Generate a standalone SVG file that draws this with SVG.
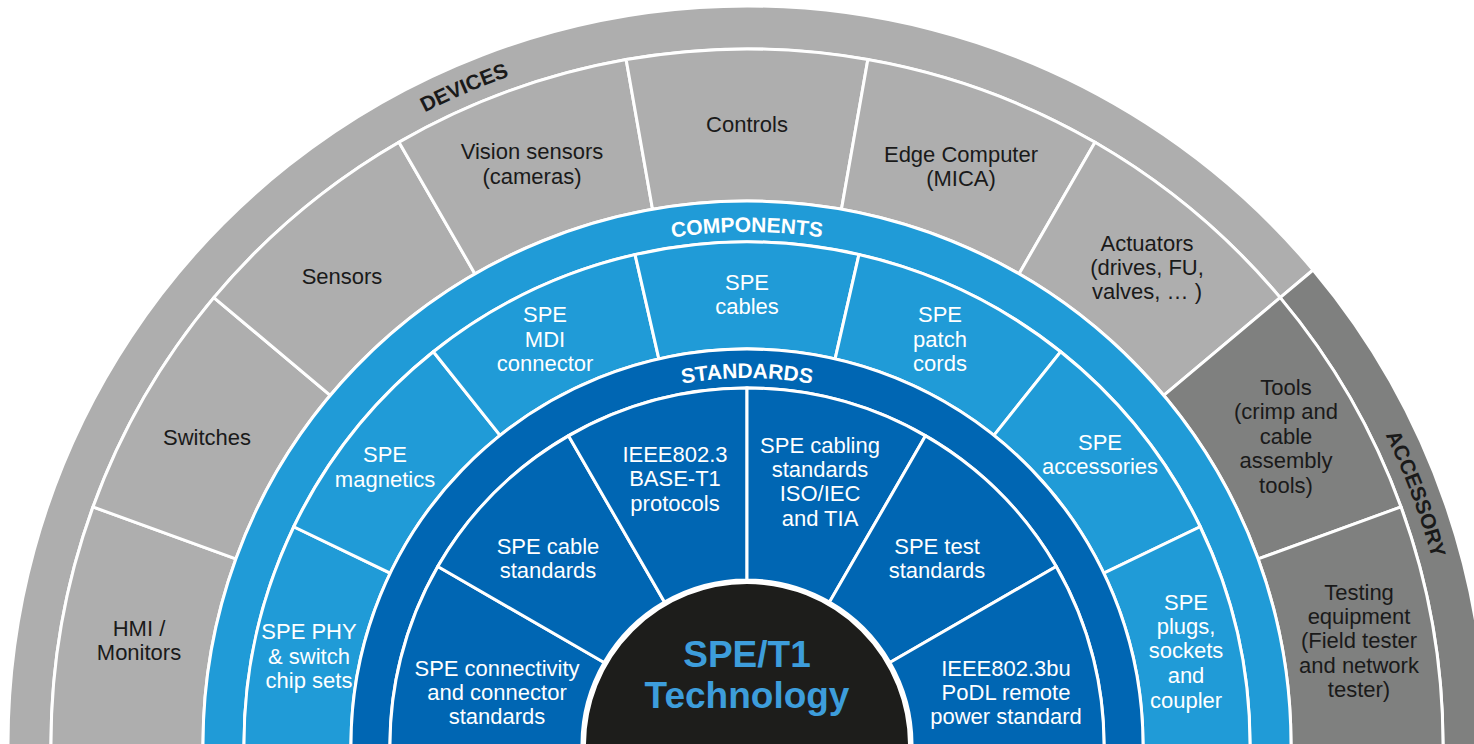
<svg xmlns="http://www.w3.org/2000/svg" width="1474" height="744" viewBox="0 0 1474 744">
<defs>
<style>
.dev{fill:#aeaeae;stroke:#fff;stroke-width:3}
.acc{fill:#7f807f;stroke:#fff;stroke-width:3}
.comp{fill:#209bd7;stroke:#fff;stroke-width:3}
.std{fill:#0066b3;stroke:#fff;stroke-width:3}
.t{font-family:"Liberation Sans",Arial,sans-serif;font-size:22px;text-anchor:middle}
.dk{fill:#1a1a1a}
.wt{fill:#fff}
.band{font-family:"Liberation Sans",Arial,sans-serif;font-size:21px;font-weight:bold;text-anchor:middle}
</style>
<path id="arcOuter" d="M 37 745 A 710 710 0 0 1 1457 745"/>
<path id="arcComp" d="M 234 745 A 513 513 0 0 1 1260 745"/>
<path id="arcStd" d="M 380 745 A 367 367 0 0 1 1114 745"/>
</defs>
<rect width="1474" height="744" fill="#fff"/>

<g id="band-devices">
<path class="dev" d="M 8.45 770.79 A 739 739 0 0 1 1313.10 269.98 L 1280.16 297.62 A 696 696 0 0 0 51.42 769.29 Z"/>
<text class="band dk"><textPath href="#arcOuter" startOffset="826.5">DEVICES</textPath></text>
</g>
<g id="band-accessory">
<path class="acc" d="M 1313.10 269.98 A 739 739 0 0 1 1485.55 770.79 L 1442.58 769.29 A 696 696 0 0 0 1280.16 297.62 Z"/>
<text class="band dk"><textPath href="#arcOuter" startOffset="1975">ACCESSORY</textPath></text>
</g>

<g id="dev-hmi">
<path class="dev" d="M 51.42 769.29 A 696 696 0 0 1 92.98 506.95 L 235.81 558.94 A 544 544 0 0 0 203.33 763.99 Z"/>
<text class="t dk" x="139" y="636">HMI /<tspan x="139" y="660">Monitors</tspan></text>
</g>
<g id="dev-switches">
<path class="dev" d="M 92.98 506.95 A 696 696 0 0 1 213.84 297.62 L 330.27 395.32 A 544 544 0 0 0 235.81 558.94 Z"/>
<text class="t dk" x="207" y="445">Switches</text>
</g>
<g id="dev-sensors">
<path class="dev" d="M 213.84 297.62 A 696 696 0 0 1 399 142.24 L 475 273.88 A 544 544 0 0 0 330.27 395.32 Z"/>
<text class="t dk" x="342" y="284">Sensors</text>
</g>
<g id="dev-vision">
<path class="dev" d="M 399 142.24 A 696 696 0 0 1 626.14 59.57 L 652.53 209.26 A 544 544 0 0 0 475 273.88 Z"/>
<text class="t dk" x="532" y="159">Vision sensors<tspan x="532" y="184">(cameras)</tspan></text>
</g>
<g id="dev-controls">
<path class="dev" d="M 626.14 59.57 A 696 696 0 0 1 867.86 59.57 L 841.47 209.26 A 544 544 0 0 0 652.53 209.26 Z"/>
<text class="t dk" x="747" y="132">Controls</text>
</g>
<g id="dev-edge">
<path class="dev" d="M 867.86 59.57 A 696 696 0 0 1 1095 142.24 L 1019 273.88 A 544 544 0 0 0 841.47 209.26 Z"/>
<text class="t dk" x="961" y="162">Edge Computer<tspan x="961" y="186">(MICA)</tspan></text>
</g>
<g id="dev-actuators">
<path class="dev" d="M 1095 142.24 A 696 696 0 0 1 1280.16 297.62 L 1163.73 395.32 A 544 544 0 0 0 1019 273.88 Z"/>
<text class="t dk" x="1147" y="251">Actuators<tspan x="1147" y="275">(drives, FU,</tspan><tspan x="1147" y="299">valves, … )</tspan></text>
</g>
<g id="acc-tools">
<path class="acc" d="M 1280.16 297.62 A 696 696 0 0 1 1401.02 506.95 L 1258.19 558.94 A 544 544 0 0 0 1163.73 395.32 Z"/>
<text class="t dk" x="1286" y="395">Tools<tspan x="1286" y="419">(crimp and</tspan><tspan x="1286" y="444">cable</tspan><tspan x="1286" y="468">assembly</tspan><tspan x="1286" y="493">tools)</tspan></text>
</g>
<g id="acc-testing">
<path class="acc" d="M 1401.02 506.95 A 696 696 0 0 1 1442.58 769.29 L 1290.67 763.99 A 544 544 0 0 0 1258.19 558.94 Z"/>
<text class="t dk" x="1359" y="600">Testing<tspan x="1359" y="624">equipment</tspan><tspan x="1359" y="648">(Field tester</tspan><tspan x="1359" y="673">and network</tspan><tspan x="1359" y="697">tester)</tspan></text>
</g>

<g id="band-components">
<path class="comp" d="M 203.33 763.99 A 544 544 0 1 1 1290.67 763.99 L 1249.69 762.55 A 503 503 0 1 0 244.31 762.55 Z"/>
<text class="band wt"><textPath href="#arcComp" startOffset="50%">COMPONENTS</textPath></text>
</g>
<g id="comp-phy">
<path class="comp" d="M 244.31 762.55 A 503 503 0 0 1 293.81 526.76 L 390.22 573.18 A 396 396 0 0 0 351.24 758.82 Z"/>
<text class="t wt" x="309" y="639">SPE PHY<tspan x="309" y="664">&amp; switch</tspan><tspan x="309" y="688">chip sets</tspan></text>
</g>
<g id="comp-magnetics">
<path class="comp" d="M 293.81 526.76 A 503 503 0 0 1 433.38 351.74 L 500.10 435.40 A 396 396 0 0 0 390.22 573.18 Z"/>
<text class="t wt" x="385" y="462">SPE<tspan x="385" y="487">magnetics</tspan></text>
</g>
<g id="comp-mdi">
<path class="comp" d="M 433.38 351.74 A 503 503 0 0 1 635.07 254.61 L 658.88 358.93 A 396 396 0 0 0 500.10 435.40 Z"/>
<text class="t wt" x="545" y="322">SPE<tspan x="545" y="347">MDI</tspan><tspan x="545" y="371">connector</tspan></text>
</g>
<g id="comp-cables">
<path class="comp" d="M 635.07 254.61 A 503 503 0 0 1 858.93 254.61 L 835.12 358.93 A 396 396 0 0 0 658.88 358.93 Z"/>
<text class="t wt" x="747" y="290">SPE<tspan x="747" y="314">cables</tspan></text>
</g>
<g id="comp-patch">
<path class="comp" d="M 858.93 254.61 A 503 503 0 0 1 1060.62 351.74 L 993.90 435.40 A 396 396 0 0 0 835.12 358.93 Z"/>
<text class="t wt" x="940" y="322">SPE<tspan x="940" y="347">patch</tspan><tspan x="940" y="371">cords</tspan></text>
</g>
<g id="comp-accessories">
<path class="comp" d="M 1060.62 351.74 A 503 503 0 0 1 1200.19 526.76 L 1103.78 573.18 A 396 396 0 0 0 993.90 435.40 Z"/>
<text class="t wt" x="1100" y="450">SPE<tspan x="1100" y="474">accessories</tspan></text>
</g>
<g id="comp-plugs">
<path class="comp" d="M 1200.19 526.76 A 503 503 0 0 1 1249.69 762.55 L 1142.76 758.82 A 396 396 0 0 0 1103.78 573.18 Z"/>
<text class="t wt" x="1186" y="610">SPE<tspan x="1186" y="634">plugs,</tspan><tspan x="1186" y="658">sockets</tspan><tspan x="1186" y="683">and</tspan><tspan x="1186" y="708">coupler</tspan></text>
</g>

<g id="band-standards">
<path class="std" d="M 351.24 758.82 A 396 396 0 1 1 1142.76 758.82 L 1103.78 757.46 A 357 357 0 1 0 390.22 757.46 Z"/>
<text class="band wt"><textPath href="#arcStd" startOffset="50%">STANDARDS</textPath></text>
</g>
<g id="std-connectivity">
<path class="std" d="M 390.22 757.46 A 357 357 0 0 1 437.83 566.5 L 604.11 662.5 A 165 165 0 0 0 582.10 750.76 Z"/>
<text class="t wt" x="497" y="676">SPE connectivity<tspan x="497" y="700">and connector</tspan><tspan x="497" y="724">standards</tspan></text>
</g>
<g id="std-cable">
<path class="std" d="M 437.83 566.5 A 357 357 0 0 1 568.5 435.83 L 664.5 602.11 A 165 165 0 0 0 604.11 662.5 Z"/>
<text class="t wt" x="548" y="554">SPE cable<tspan x="548" y="578">standards</tspan></text>
</g>
<g id="std-ieee">
<path class="std" d="M 568.5 435.83 A 357 357 0 0 1 747 388 L 747 580 A 165 165 0 0 0 664.5 602.11 Z"/>
<text class="t wt" x="675" y="462">IEEE802.3<tspan x="675" y="486">BASE-T1</tspan><tspan x="675" y="511">protocols</tspan></text>
</g>
<g id="std-cabling">
<path class="std" d="M 747 388 A 357 357 0 0 1 925.5 435.83 L 829.5 602.11 A 165 165 0 0 0 747 580 Z"/>
<text class="t wt" x="820" y="453">SPE cabling<tspan x="820" y="477">standards</tspan><tspan x="820" y="501">ISO/IEC</tspan><tspan x="820" y="526">and TIA</tspan></text>
</g>
<g id="std-test">
<path class="std" d="M 925.5 435.83 A 357 357 0 0 1 1056.17 566.5 L 889.89 662.5 A 165 165 0 0 0 829.5 602.11 Z"/>
<text class="t wt" x="937" y="554">SPE test<tspan x="937" y="578">standards</tspan></text>
</g>
<g id="std-podl">
<path class="std" d="M 1056.17 566.5 A 357 357 0 0 1 1103.78 757.46 L 911.90 750.76 A 165 165 0 0 0 889.89 662.5 Z"/>
<text class="t wt" x="1006" y="676">IEEE802.3bu<tspan x="1006" y="700">PoDL remote</tspan><tspan x="1006" y="724">power standard</tspan></text>
</g>

<g id="core">
<circle cx="747" cy="745" r="163" fill="#1d1d1b" stroke="#fff" stroke-width="4"/>
<text x="747" y="667" font-family="'Liberation Sans',Arial,sans-serif" font-size="37" font-weight="bold" fill="#3d9ddb" text-anchor="middle">SPE/T1<tspan x="747" y="708">Technology</tspan></text>
</g>
<g id="connectors"/>
</svg>
